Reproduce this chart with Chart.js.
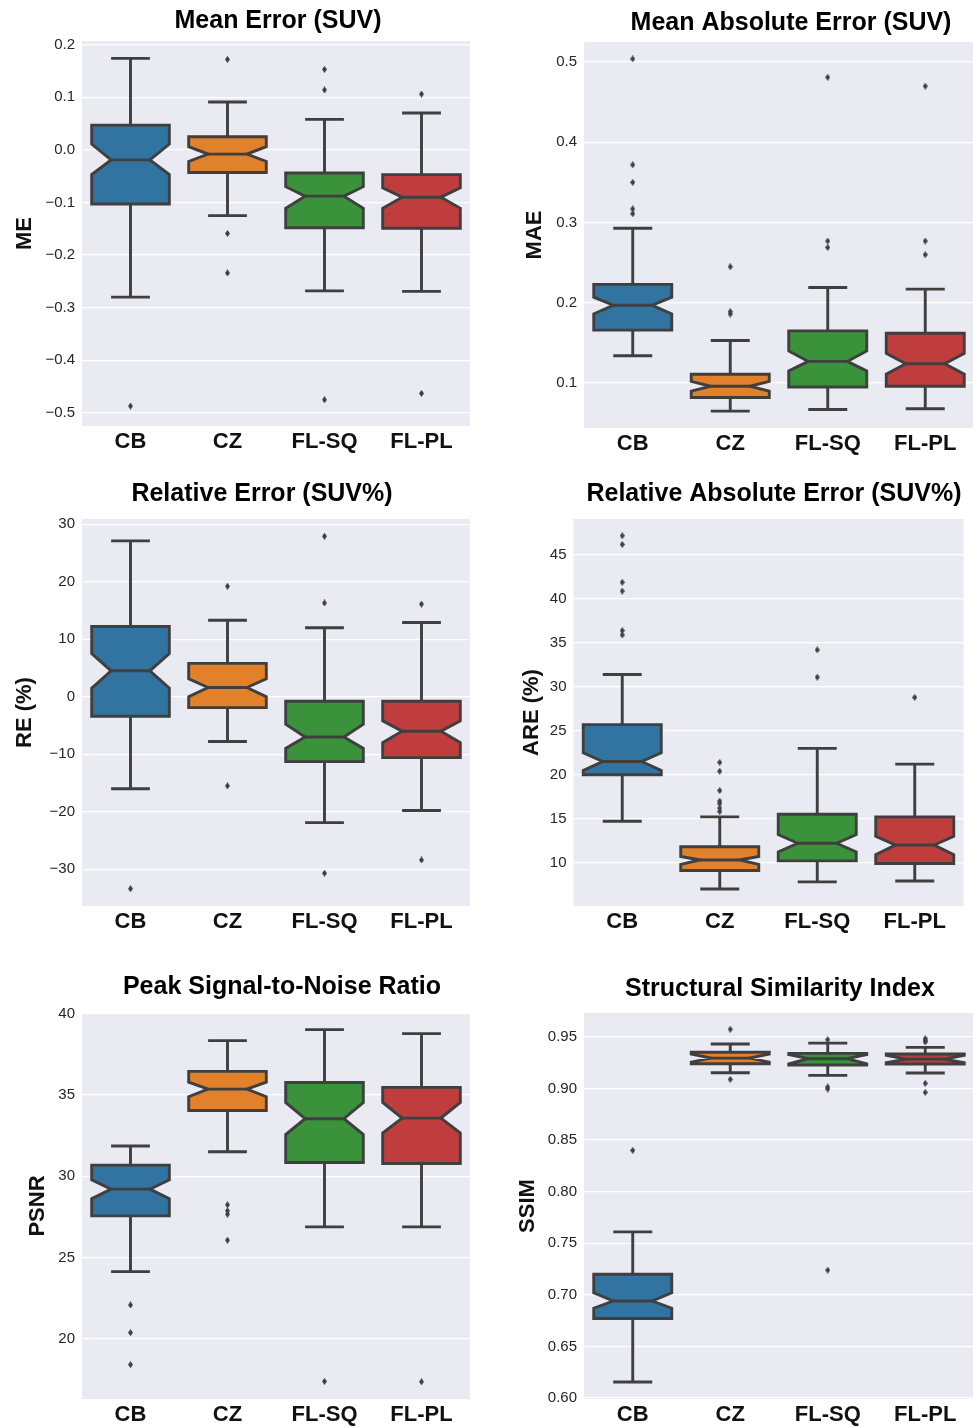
<!DOCTYPE html>
<html>
<head>
<meta charset="utf-8">
<script src="https://cdn.jsdelivr.net/npm/chart.js@4.4.0/dist/chart.umd.min.js"></script>
<style>
  html, body { margin: 0; padding: 0; background: #ffffff; }
  body { position: relative; width: 973px; height: 1427px; overflow: hidden; }
  canvas { position: absolute; }
</style>
</head>
<body>
<script>
// ---------------- DATA ----------------
const categories = ['CB', 'CZ', 'FL-SQ', 'FL-PL'];
const boxColors = ['#3274a1', '#e1812c', '#3a923a', '#c03d3e'];

// Mean Error (SUV)
const meLow       = [-0.280, -0.125, -0.268, -0.269];
const meQ1        = [-0.103, -0.043, -0.148, -0.149];
const meNotchLow  = [-0.047, -0.022, -0.111, -0.111];
const meMedian    = [-0.019, -0.008, -0.088, -0.090];
const meNotchHigh = [0.011, 0.006, -0.070, -0.072];
const meQ3        = [0.047, 0.025, -0.044, -0.047];
const meHigh      = [0.174, 0.091, 0.058, 0.070];
const meOutliers  = [[-0.487], [0.172, -0.159, -0.234], [0.153, 0.114, -0.475], [0.106, -0.463]];
const meTicks      = [-0.5, -0.4, -0.3, -0.2, -0.1, 0.0, 0.1, 0.2];
const meTickLabels = ['\u22120.5', '\u22120.4', '\u22120.3', '\u22120.2', '\u22120.1', '0.0', '0.1', '0.2'];
const meRange      = [-0.525, 0.207];

// Mean Absolute Error (SUV)
const maeLow       = [0.134, 0.065, 0.067, 0.068];
const maeQ1        = [0.166, 0.082, 0.095, 0.096];
const maeNotchLow  = [0.186, 0.090, 0.115, 0.111];
const maeMedian    = [0.197, 0.096, 0.127, 0.124];
const maeNotchHigh = [0.207, 0.102, 0.140, 0.137];
const maeQ3        = [0.223, 0.111, 0.165, 0.162];
const maeHigh      = [0.293, 0.153, 0.219, 0.217];
const maeOutliers  = [[0.504, 0.372, 0.350, 0.317, 0.311], [0.245, 0.189, 0.186], [0.481, 0.277, 0.269], [0.470, 0.277, 0.260]];
const maeTicks      = [0.1, 0.2, 0.3, 0.4, 0.5];
const maeTickLabels = ['0.1', '0.2', '0.3', '0.4', '0.5'];
const maeRange      = [0.044, 0.525];

// Relative Error (SUV%)
const reLow       = [-16.0, -7.8, -21.9, -19.8];
const reQ1        = [-3.4, -1.9, -11.3, -10.6];
const reNotchLow  = [1.5, 0.0, -9.0, -8.0];
const reMedian    = [4.5, 1.6, -7.0, -6.0];
const reNotchHigh = [7.5, 3.1, -4.8, -4.2];
const reQ3        = [12.2, 5.8, -0.8, -0.8];
const reHigh      = [27.1, 13.3, 12.0, 12.9];
const reOutliers  = [[-33.4], [19.2, -15.5], [27.9, 16.3, -30.7], [16.1, -28.4]];
const reTicks      = [-30, -20, -10, 0, 10, 20, 30];
const reTickLabels = ['\u221230', '\u221220', '\u221210', '0', '10', '20', '30'];
const reRange      = [-36.4, 30.9];

// Relative Absolute Error (SUV%)
const areLow       = [14.7, 7.0, 7.8, 7.9];
const areQ1        = [20.0, 9.1, 10.2, 9.9];
const areNotchLow  = [20.5, 9.8, 11.2, 10.9];
const areMedian    = [21.5, 10.3, 12.2, 12.0];
const areNotchHigh = [22.5, 10.7, 13.2, 13.0];
const areQ3        = [25.7, 11.8, 15.5, 15.2];
const areHigh      = [31.4, 15.2, 23.0, 21.2];
const areOutliers  = [[47.2, 46.2, 41.9, 40.9, 36.4, 35.9], [21.4, 20.4, 18.2, 17.0, 16.7, 16.2, 15.8], [34.2, 31.1], [28.8]];
const areTicks      = [10, 15, 20, 25, 30, 35, 40, 45];
const areTickLabels = ['10', '15', '20', '25', '30', '35', '40', '45'];
const areRange      = [5.06, 49.1];

// Peak Signal-to-Noise Ratio
const psnrLow       = [24.14, 31.51, 26.89, 26.89];
const psnrQ1        = [27.57, 34.05, 30.85, 30.79];
const psnrNotchLow  = [28.62, 34.89, 32.57, 32.66];
const psnrMedian    = [29.21, 35.36, 33.54, 33.58];
const psnrNotchHigh = [29.78, 35.79, 34.54, 34.54];
const psnrQ3        = [30.69, 36.45, 35.77, 35.47];
const psnrHigh      = [31.86, 38.34, 39.02, 38.77];
const psnrOutliers  = [[22.09, 20.39, 18.42], [28.25, 27.88, 27.67, 26.07], [17.39], [17.37]];
const psnrTicks      = [20, 25, 30, 35, 40];
const psnrTickLabels = ['20', '25', '30', '35', '40'];
const psnrRange      = [16.31, 40.04];

// Structural Similarity Index
const ssimLow       = [0.6155, 0.9153, 0.9127, 0.9150];
const ssimQ1        = [0.677, 0.9240, 0.9228, 0.9237];
const ssimNotchLow  = [0.687, 0.9255, 0.9240, 0.9250];
const ssimMedian    = [0.694, 0.9295, 0.9289, 0.9285];
const ssimNotchHigh = [0.702, 0.9335, 0.9330, 0.9322];
const ssimQ3        = [0.720, 0.9351, 0.9341, 0.9334];
const ssimHigh      = [0.761, 0.9431, 0.9440, 0.9399];
const ssimOutliers  = [[0.840], [0.9574, 0.9089], [0.9473, 0.9015, 0.8995, 0.7239], [0.9483, 0.9464, 0.9451, 0.9050, 0.8962]];
const ssimTicks      = [0.60, 0.65, 0.70, 0.75, 0.80, 0.85, 0.90, 0.95];
const ssimTickLabels = ['0.60', '0.65', '0.70', '0.75', '0.80', '0.85', '0.90', '0.95'];
const ssimRange      = [0.599, 0.9732];

// ---------------- RENDERING ----------------
const FONT = "'Liberation Sans', Arial, Helvetica, sans-serif";
const EDGE = '#3f3f3f';

const diamond = document.createElement('canvas');
diamond.width = 5; diamond.height = 7;
(function () {
  const d = diamond.getContext('2d');
  d.fillStyle = EDGE;
  d.beginPath(); d.moveTo(2.5, 0); d.lineTo(5, 3.5); d.lineTo(2.5, 7); d.lineTo(0, 3.5); d.closePath(); d.fill();
})();

function makeStats(low, q1, nlo, med, nhi, q3, high) {
  return categories.map((c, i) => ({ lo: low[i], q1: q1[i], nlo: nlo[i], med: med[i], nhi: nhi[i], q3: q3[i], hi: high[i] }));
}

const panels = [
  { title: 'Mean Error (SUV)', yTitle: 'ME', stats: makeStats(meLow, meQ1, meNotchLow, meMedian, meNotchHigh, meQ3, meHigh),
    outliers: meOutliers, ticks: meTicks, tickLabels: meTickLabels, range: meRange,
    cx: 0, cy: 0, cw: 486, ch: 470, L: 82, T: 41, R: 470, B: 426, titleX: 278, titleY: 21, ylabelX: 24.7 },
  { title: 'Mean Absolute Error (SUV)', yTitle: 'MAE', stats: makeStats(maeLow, maeQ1, maeNotchLow, maeMedian, maeNotchHigh, maeQ3, maeHigh),
    outliers: maeOutliers, ticks: maeTicks, tickLabels: maeTickLabels, range: maeRange,
    cx: 486, cy: 0, cw: 500, ch: 470, L: 584, T: 42, R: 974, B: 428, titleX: 791, titleY: 23, ylabelX: 535 },
  { title: 'Relative Error (SUV%)', yTitle: 'RE (%)', stats: makeStats(reLow, reQ1, reNotchLow, reMedian, reNotchHigh, reQ3, reHigh),
    outliers: reOutliers, ticks: reTicks, tickLabels: reTickLabels, range: reRange,
    cx: 0, cy: 470, cw: 486, ch: 480, L: 82, T: 519, R: 470, B: 906, titleX: 262, titleY: 494, ylabelX: 25 },
  { title: 'Relative Absolute Error (SUV%)', yTitle: 'ARE (%)', stats: makeStats(areLow, areQ1, areNotchLow, areMedian, areNotchHigh, areQ3, areHigh),
    outliers: areOutliers, ticks: areTicks, tickLabels: areTickLabels, range: areRange,
    cx: 486, cy: 470, cw: 500, ch: 480, L: 573.5, T: 519, R: 963.5, B: 906, titleX: 774, titleY: 494, ylabelX: 532 },
  { title: 'Peak Signal-to-Noise Ratio', yTitle: 'PSNR', stats: makeStats(psnrLow, psnrQ1, psnrNotchLow, psnrMedian, psnrNotchHigh, psnrQ3, psnrHigh),
    outliers: psnrOutliers, ticks: psnrTicks, tickLabels: psnrTickLabels, range: psnrRange,
    cx: 0, cy: 955, cw: 486, ch: 472, L: 82, T: 1013, R: 470, B: 1399, titleX: 282, titleY: 987, ylabelX: 38 },
  { title: 'Structural Similarity Index', yTitle: 'SSIM', stats: makeStats(ssimLow, ssimQ1, ssimNotchLow, ssimMedian, ssimNotchHigh, ssimQ3, ssimHigh),
    outliers: ssimOutliers, ticks: ssimTicks, tickLabels: ssimTickLabels, range: ssimRange,
    cx: 486, cy: 955, cw: 500, ch: 472, L: 584, T: 1013, R: 974, B: 1399, titleX: 780, titleY: 989, ylabelX: 528 }
];

function makeChart(p) {
  const cv = document.createElement('canvas');
  cv.width = p.cw; cv.height = p.ch;
  cv.style.left = p.cx + 'px'; cv.style.top = p.cy + 'px';
  cv.style.width = p.cw + 'px'; cv.style.height = p.ch + 'px';
  document.body.appendChild(cv);

  const yTitleLine = 22 * 1.2;
  const padLeft = p.ylabelX - yTitleLine / 2 - p.cx;
  const yWidth = p.L - p.cx - padLeft;
  const padRight = p.cx + p.cw - p.R;
  const padTop = p.T - p.cy;
  const room = p.cy + p.ch - p.B;
  const xHeight = Math.min(40, room);
  const padBottom = room - xHeight;

  const bgPlugin = {
    id: 'panelBackground',
    beforeDraw(chart) {
      const a = chart.chartArea, ctx = chart.ctx;
      ctx.save(); ctx.fillStyle = '#eaeaf2';
      ctx.fillRect(a.left, a.top, a.right - a.left, a.bottom - a.top);
      ctx.restore();
    }
  };

  const boxPlugin = {
    id: 'notchedBoxes',
    beforeDatasetsDraw(chart) {
      const ctx = chart.ctx, xs = chart.scales.x, ys = chart.scales.y, a = chart.chartArea;
      const band = xs.getPixelForValue(1) - xs.getPixelForValue(0);
      const half = band * 0.4, capHalf = half / 2;
      const py = v => ys.getPixelForValue(v);
      ctx.save();
      ctx.beginPath(); ctx.rect(a.left, a.top, a.right - a.left, a.bottom - a.top); ctx.clip();
      ctx.lineWidth = 2.9; ctx.strokeStyle = EDGE; ctx.lineJoin = 'miter'; ctx.lineCap = 'butt';
      p.stats.forEach((s, i) => {
        const c = xs.getPixelForValue(i);
        ctx.beginPath();
        ctx.moveTo(c, py(s.q3)); ctx.lineTo(c, py(s.hi));
        ctx.moveTo(c, py(s.q1)); ctx.lineTo(c, py(s.lo));
        ctx.moveTo(c - capHalf, py(s.hi)); ctx.lineTo(c + capHalf, py(s.hi));
        ctx.moveTo(c - capHalf, py(s.lo)); ctx.lineTo(c + capHalf, py(s.lo));
        ctx.stroke();
        const l = c - half, r = c + half, ml = c - half / 2, mr = c + half / 2;
        ctx.beginPath();
        ctx.moveTo(l, py(s.q1)); ctx.lineTo(r, py(s.q1)); ctx.lineTo(r, py(s.nlo));
        ctx.lineTo(mr, py(s.med)); ctx.lineTo(r, py(s.nhi)); ctx.lineTo(r, py(s.q3));
        ctx.lineTo(l, py(s.q3)); ctx.lineTo(l, py(s.nhi)); ctx.lineTo(ml, py(s.med));
        ctx.lineTo(l, py(s.nlo)); ctx.closePath();
        ctx.fillStyle = boxColors[i]; ctx.fill(); ctx.stroke();
        ctx.beginPath(); ctx.moveTo(ml, py(s.med)); ctx.lineTo(mr, py(s.med)); ctx.stroke();
      });
      ctx.restore();
    }
  };

  const titlePlugin = {
    id: 'panelTitle',
    afterDraw(chart) {
      const ctx = chart.ctx;
      ctx.save();
      ctx.font = 'bold 25px ' + FONT; ctx.fillStyle = '#000';
      ctx.textAlign = 'center'; ctx.textBaseline = 'middle';
      ctx.fillText(p.title, p.titleX - p.cx, p.titleY - p.cy);
      ctx.restore();
    }
  };

  const points = [];
  p.outliers.forEach((arr, i) => arr.forEach(v => points.push({ x: categories[i], y: v })));

  new Chart(cv, {
    type: 'scatter',
    data: {
      labels: categories,
      datasets: [{ data: points, pointStyle: diamond, pointRadius: 3, pointHoverRadius: 3, showLine: false }]
    },
    options: {
      responsive: false, animation: false, events: [],
      layout: { padding: { left: padLeft, right: padRight, top: padTop, bottom: padBottom } },
      plugins: { legend: { display: false }, tooltip: { enabled: false } },
      scales: {
        x: {
          type: 'category', labels: categories, offset: true,
          grid: { display: false, drawTicks: false }, border: { display: false },
          ticks: { padding: 3, color: '#111', font: { family: FONT, size: 22, weight: 'bold' }, maxRotation: 0, autoSkip: false },
          afterFit: s => { s.height = xHeight; }
        },
        y: {
          type: 'linear', min: p.range[0], max: p.range[1],
          grid: { color: '#ffffff', lineWidth: 1.3, drawTicks: false }, border: { display: false },
          afterBuildTicks: s => { s.ticks = p.ticks.map(v => ({ value: v })); },
          ticks: { padding: 7, color: '#262626', font: { family: FONT, size: 15 }, autoSkip: false,
                   callback: (v, i) => p.tickLabels[i] },
          title: { display: true, text: p.yTitle, color: '#111', font: { family: FONT, size: 22, weight: 'bold' }, padding: { top: 0, bottom: 0 } },
          afterFit: s => { s.width = yWidth; }
        }
      }
    },
    plugins: [bgPlugin, boxPlugin, titlePlugin]
  });
}

panels.forEach(makeChart);
</script>
</body>
</html>
